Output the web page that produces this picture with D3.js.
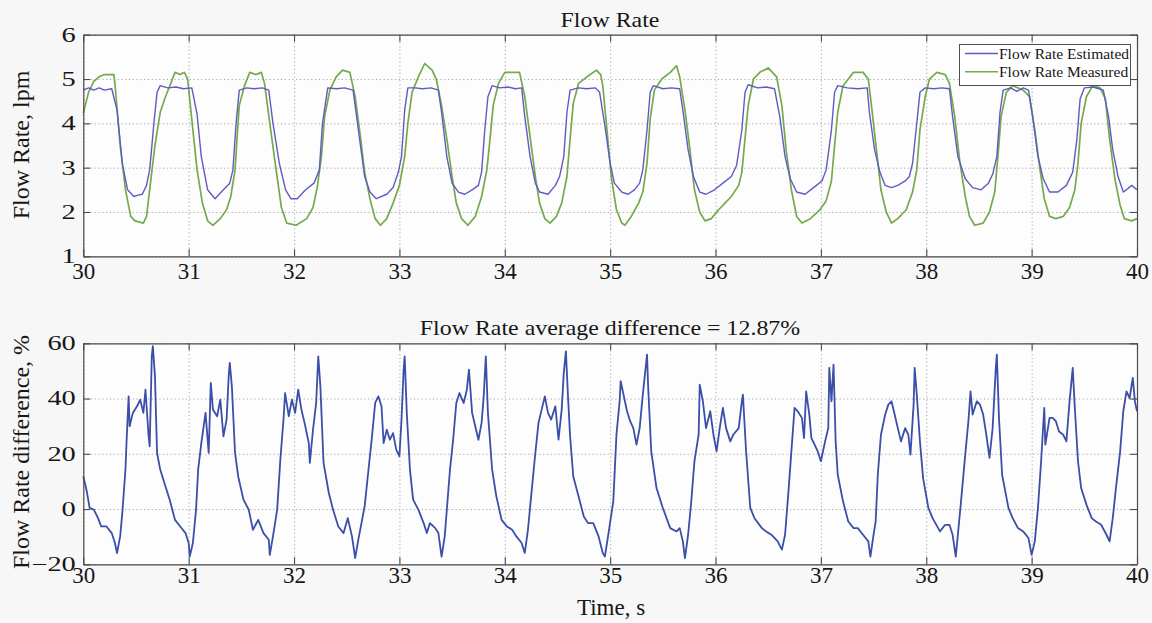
<!DOCTYPE html>
<html>
<head>
<meta charset="utf-8">
<script src="https://cdn.jsdelivr.net/npm/d3@7"></script>
<style>
  body { margin: 0; background: #f7f7f7; }
  svg text { font-family: "Liberation Serif", "Times New Roman", serif; fill: #161616; }
</style>
</head>
<body>
<svg id="chart" width="1152" height="623"></svg>
<script>
// ---- data: [time s, value] ----
const flowEstimated = [
  [30.00,4.75],[30.05,4.8],[30.1,4.75],[30.15,4.8],[30.2,4.75],[30.27,4.78],[30.32,4.3],[30.37,3.1],[30.42,2.5],[30.48,2.35],
  [30.52,2.38],[30.56,2.4],[30.6,2.6],[30.63,2.95],[30.67,4.0],[30.7,4.7],[30.73,4.85],[30.8,4.8],[30.88,4.82],[30.95,4.78],
  [31.03,4.8],[31.08,4.2],[31.12,3.25],[31.18,2.5],[31.25,2.3],[31.33,2.5],[31.39,2.65],[31.42,2.95],[31.45,4.0],[31.48,4.75],
  [31.55,4.8],[31.62,4.78],[31.7,4.8],[31.76,4.75],[31.8,4.0],[31.86,3.1],[31.92,2.5],[31.97,2.3],[32.03,2.3],[32.11,2.5],
  [32.19,2.65],[32.24,2.95],[32.27,4.0],[32.32,4.8],[32.4,4.78],[32.48,4.8],[32.56,4.75],[32.58,4.4],[32.63,3.5],[32.67,2.8],
  [32.72,2.45],[32.78,2.3],[32.88,2.4],[32.94,2.55],[32.99,2.9],[33.02,3.25],[33.05,4.3],[33.08,4.8],[33.15,4.8],[33.22,4.78],
  [33.3,4.8],[33.37,4.75],[33.4,4.25],[33.45,3.25],[33.5,2.65],[33.56,2.45],[33.62,2.4],[33.69,2.5],[33.75,2.6],[33.78,2.9],
  [33.81,3.85],[33.84,4.6],[33.88,4.85],[33.95,4.8],[34.03,4.82],[34.1,4.78],[34.16,4.8],[34.19,4.15],[34.24,3.25],[34.29,2.65],
  [34.33,2.45],[34.41,2.4],[34.48,2.6],[34.52,2.8],[34.56,3.25],[34.59,4.25],[34.62,4.75],[34.7,4.8],[34.78,4.78],[34.86,4.8],
  [34.9,4.7],[34.95,3.95],[35.0,3.1],[35.04,2.65],[35.11,2.45],[35.17,2.4],[35.23,2.5],[35.28,2.65],[35.31,2.95],[35.35,3.85],
  [35.38,4.7],[35.41,4.85],[35.5,4.78],[35.58,4.8],[35.66,4.78],[35.69,4.3],[35.74,3.4],[35.79,2.8],[35.85,2.45],[35.91,2.4],
  [35.99,2.5],[36.07,2.65],[36.15,2.8],[36.2,3.05],[36.25,3.85],[36.28,4.7],[36.31,4.87],[36.4,4.8],[36.48,4.82],[36.56,4.78],
  [36.61,4.15],[36.66,3.25],[36.71,2.75],[36.77,2.45],[36.85,2.4],[36.93,2.55],[37.01,2.7],[37.05,2.95],[37.1,3.85],[37.13,4.7],
  [37.16,4.85],[37.25,4.8],[37.35,4.78],[37.44,4.8],[37.46,4.25],[37.51,3.4],[37.56,2.9],[37.61,2.6],[37.67,2.55],[37.73,2.6],
  [37.8,2.7],[37.84,2.8],[37.87,3.1],[37.91,4.0],[37.94,4.7],[37.99,4.8],[38.07,4.78],[38.15,4.8],[38.22,4.78],[38.25,4.15],
  [38.3,3.25],[38.37,2.75],[38.44,2.55],[38.52,2.5],[38.59,2.65],[38.63,2.85],[38.67,3.25],[38.7,4.25],[38.73,4.75],[38.8,4.8],
  [38.86,4.72],[38.92,4.8],[38.97,4.75],[39.01,4.15],[39.06,3.25],[39.11,2.75],[39.17,2.45],[39.25,2.45],[39.33,2.6],[39.39,2.9],
  [39.43,3.65],[39.46,4.55],[39.5,4.8],[39.58,4.82],[39.64,4.78],[39.68,4.75],[39.73,4.15],[39.77,3.4],[39.82,2.8],[39.87,2.45],
  [39.9,2.5],[39.95,2.6],[40.0,2.5]
];

const flowMeasured = [
  [30.0,4.23],[30.05,4.7],[30.1,4.95],[30.15,5.05],[30.2,5.1],[30.25,5.1],[30.29,5.1],[30.3,4.9],[30.35,3.5],[30.4,2.5],
  [30.45,1.9],[30.49,1.8],[30.57,1.75],[30.6,1.9],[30.64,2.7],[30.68,3.5],[30.73,4.25],[30.78,4.6],[30.83,4.9],[30.87,5.15],
  [30.92,5.1],[30.96,5.15],[30.99,5.0],[31.04,3.85],[31.08,2.95],[31.13,2.2],[31.18,1.8],[31.23,1.7],[31.3,1.85],[31.36,2.05],
  [31.4,2.35],[31.44,2.95],[31.46,3.7],[31.48,4.4],[31.53,4.85],[31.58,5.15],[31.64,5.1],[31.69,5.15],[31.72,4.9],[31.77,4.0],
  [31.83,2.95],[31.88,2.1],[31.93,1.75],[32.02,1.7],[32.12,1.85],[32.18,2.1],[32.22,2.55],[32.26,3.25],[32.29,4.15],[32.34,4.75],
  [32.4,5.05],[32.46,5.2],[32.53,5.15],[32.58,4.6],[32.63,3.7],[32.67,2.9],[32.72,2.3],[32.77,1.85],[32.82,1.7],[32.88,1.85],
  [32.94,2.2],[33.0,2.6],[33.05,3.25],[33.08,4.0],[33.12,4.7],[33.18,5.05],[33.24,5.35],[33.31,5.2],[33.35,5.0],[33.4,4.4],
  [33.45,3.65],[33.5,2.8],[33.54,2.2],[33.59,1.85],[33.65,1.7],[33.72,1.9],[33.78,2.35],[33.83,2.95],[33.86,3.65],[33.89,4.4],
  [33.94,4.9],[34.0,5.15],[34.07,5.15],[34.14,5.15],[34.19,4.6],[34.24,3.7],[34.29,2.8],[34.33,2.2],[34.38,1.85],[34.43,1.75],
  [34.49,1.9],[34.54,2.2],[34.59,2.8],[34.62,3.65],[34.65,4.45],[34.7,4.9],[34.78,5.05],[34.87,5.2],[34.91,5.1],[34.93,4.85],
  [34.97,3.85],[35.01,2.8],[35.06,2.05],[35.11,1.75],[35.14,1.7],[35.2,1.9],[35.27,2.2],[35.31,2.45],[35.35,3.1],[35.38,4.1],
  [35.42,4.75],[35.49,5.0],[35.57,5.15],[35.63,5.3],[35.66,5.05],[35.71,4.3],[35.76,3.35],[35.8,2.5],[35.85,2.0],[35.9,1.8],
  [35.96,1.85],[36.03,2.05],[36.09,2.2],[36.15,2.35],[36.22,2.6],[36.25,2.9],[36.28,3.65],[36.31,4.4],[36.36,5.0],[36.42,5.15],
  [36.5,5.25],[36.58,5.05],[36.63,4.4],[36.67,3.4],[36.72,2.5],[36.77,1.9],[36.82,1.75],[36.9,1.85],[36.99,2.05],[37.05,2.25],
  [37.1,2.7],[37.13,3.5],[37.16,4.25],[37.21,4.85],[37.31,5.15],[37.4,5.15],[37.45,5.0],[37.48,4.4],[37.53,3.35],[37.57,2.5],
  [37.62,2.0],[37.67,1.75],[37.73,1.85],[37.81,2.05],[37.87,2.45],[37.91,2.95],[37.94,3.85],[37.99,4.6],[38.03,5.0],[38.1,5.15],
  [38.18,5.1],[38.22,4.9],[38.27,4.15],[38.32,3.1],[38.37,2.35],[38.41,1.9],[38.46,1.7],[38.54,1.75],[38.6,2.0],[38.65,2.45],
  [38.68,3.25],[38.71,4.15],[38.76,4.7],[38.82,4.85],[38.92,4.75],[38.98,4.6],[39.03,3.85],[39.08,2.95],[39.12,2.3],[39.17,1.9],
  [39.23,1.85],[39.3,1.9],[39.36,2.1],[39.41,2.5],[39.44,3.1],[39.47,4.0],[39.52,4.6],[39.58,4.85],[39.65,4.8],[39.7,4.55],
  [39.74,3.65],[39.79,2.75],[39.84,2.15],[39.88,1.85],[39.95,1.8],[40.0,1.85]
];

const flowDiff = [
  [30.0,11.8],[30.03,7],[30.06,0.4],[30.1,-0.2],[30.14,-3.3],[30.17,-6.3],[30.22,-6.3],[30.27,-8.7],[30.3,-12.3],[30.32,-15.9],
  [30.35,-9.9],[30.37,-1.5],[30.4,14.3],[30.41,23.9],[30.43,40.8],[30.44,30],[30.47,34.8],[30.51,37.2],[30.54,39.6],[30.57,34.8],
  [30.59,43.2],[30.62,26.3],[30.63,22.7],[30.65,55.3],[30.66,59],[30.68,48.1],[30.7,20.3],[30.73,14.3],[30.78,8.2],[30.82,3.4],
  [30.87,-3.9],[30.92,-6.3],[30.97,-8.7],[31.0,-12.3],[31.01,-17.2],[31.04,-12.3],[31.07,-0.2],[31.09,14.3],[31.12,23.9],[31.16,34.8],
  [31.19,20.3],[31.21,45.7],[31.23,36],[31.27,33.6],[31.3,39.6],[31.33,26.3],[31.36,32.4],[31.38,48.1],[31.39,52.9],[31.41,44.4],
  [31.44,20.3],[31.47,11.8],[31.52,3.4],[31.57,-0.2],[31.61,-7.5],[31.66,-3.9],[31.71,-8.7],[31.76,-11.1],[31.77,-16.6],[31.8,-9.9],
  [31.84,-0.2],[31.87,17.9],[31.9,32.4],[31.915,42],[31.95,33.6],[31.98,39.6],[32.01,34.8],[32.04,43.2],[32.07,36],[32.1,31.2],
  [32.14,23.9],[32.15,16.7],[32.18,28.7],[32.21,38.4],[32.23,55.3],[32.25,44.4],[32.28,16.7],[32.33,5.8],[32.37,-0.2],[32.42,-6.3],
  [32.47,-8.7],[32.51,-3.3],[32.55,-9.9],[32.58,-17.8],[32.61,-11.1],[32.64,-5.1],[32.67,1],[32.71,15.5],[32.74,26.3],[32.77,38.4],
  [32.8,40.8],[32.83,37.2],[32.85,23.9],[32.88,28.7],[32.91,25.1],[32.94,27.5],[32.97,21.5],[33.0,19.1],[33.02,32.4],[33.04,50.5],
  [33.05,55.3],[33.07,34.8],[33.1,14.3],[33.13,3.4],[33.18,-0.2],[33.23,-5.1],[33.26,-8.7],[33.29,-5.1],[33.34,-6.9],[33.37,-8.7],
  [33.4,-17.2],[33.43,-9.9],[33.45,-0.2],[33.48,14.3],[33.51,25.1],[33.54,38.4],[33.57,42],[33.61,38.4],[33.64,43.2],[33.66,50.5],
  [33.69,34.8],[33.72,30],[33.75,25.1],[33.78,31.2],[33.8,40.8],[33.82,55.3],[33.84,34.8],[33.88,14.3],[33.92,4.6],[33.97,-3.9],
  [34.02,-6.3],[34.07,-7.5],[34.11,-9.9],[34.16,-12.3],[34.19,-15.9],[34.22,-7.5],[34.25,4.6],[34.29,20.3],[34.32,31.2],[34.35,36],
  [34.38,40.8],[34.41,34.8],[34.44,32.4],[34.48,37.2],[34.51,25.1],[34.54,36],[34.56,49.3],[34.58,57.1],[34.6,40.8],[34.62,26.3],
  [34.65,11.8],[34.7,4.6],[34.75,-2.7],[34.79,-5.1],[34.84,-5.1],[34.89,-9.9],[34.93,-15.9],[34.95,-17.2],[34.98,-9.9],[35.03,2.8],
  [35.06,27],[35.09,39],[35.1,46.3],[35.16,35.4],[35.19,31.8],[35.22,29.3],[35.25,23.3],[35.28,29.3],[35.31,41.4],[35.35,55.9],
  [35.36,45],[35.39,20.9],[35.44,7.6],[35.5,0.4],[35.57,-6.9],[35.63,-8.1],[35.66,-6.9],[35.69,-11.7],[35.71,-17.8],[35.74,-9.3],
  [35.77,2.8],[35.8,17.3],[35.84,27],[35.85,45],[35.88,39],[35.91,29.3],[35.95,35.4],[35.98,27],[36.01,20.9],[36.04,29.3],
  [36.07,36.6],[36.1,29.3],[36.14,24.5],[36.17,27],[36.22,29.3],[36.25,39],[36.26,41.4],[36.29,20.9],[36.33,0.4],[36.37,-3.3],
  [36.44,-6.9],[36.48,-8.1],[36.53,-9.3],[36.59,-11.7],[36.63,-14.7],[36.66,-9.3],[36.69,5.2],[36.72,20.9],[36.75,36.6],[36.78,35.4],
  [36.82,33],[36.84,25.7],[36.86,42.6],[36.89,34.2],[36.91,25.7],[36.94,23.3],[36.97,20.9],[37.0,17.3],[37.04,24.5],[37.07,29.3],
  [37.08,51.1],[37.1,39],[37.12,52.3],[37.14,24.5],[37.16,12.4],[37.21,2.8],[37.26,-4.5],[37.31,-6.9],[37.35,-6.9],[37.4,-9.3],
  [37.45,-11.7],[37.47,-17.2],[37.5,-9.3],[37.52,-4.5],[37.54,12.4],[37.57,26.9],[37.61,34.2],[37.64,37.8],[37.67,39],[37.7,34.2],
  [37.73,29.3],[37.76,24.5],[37.8,29.3],[37.83,26.9],[37.85,19.7],[37.88,37.8],[37.89,51.1],[37.91,41.4],[37.94,24.5],[37.97,11.2],
  [38.02,0.4],[38.06,-3.3],[38.13,-8.1],[38.18,-5.7],[38.22,-5.7],[38.25,-9.3],[38.28,-17.2],[38.3,-9.3],[38.33,2.8],[38.37,19.7],
  [38.4,31.8],[38.42,42.6],[38.44,34.2],[38.48,39],[38.51,37.8],[38.54,34.2],[38.57,26.9],[38.6,18.5],[38.63,29.3],[38.66,51.1],
  [38.67,55.9],[38.69,33],[38.72,12.4],[38.78,0.4],[38.82,-3.3],[38.87,-6.9],[38.92,-8.1],[38.97,-10.5],[39.0,-16.6],[39.03,-11.7],
  [39.06,0.4],[39.09,17.3],[39.12,36.6],[39.13,23.3],[39.17,33],[39.2,33],[39.23,31.8],[39.26,28.1],[39.3,26.9],[39.33,24.5],
  [39.36,39],[39.39,51.1],[39.41,36.6],[39.44,17.3],[39.47,7.6],[39.52,1.6],[39.57,-3.3],[39.61,-4.5],[39.66,-5.7],[39.71,-9.3],
  [39.74,-11.7],[39.77,-3.3],[39.8,7.6],[39.84,20.9],[39.87,35.4],[39.9,42.6],[39.93,40.2],[39.96,47.5],[39.98,39],[40.0,35.4]
];

const timeTicks = [30, 31, 32, 33, 34, 35, 36, 37, 38, 39, 40];
const flowTicks = [1, 2, 3, 4, 5, 6];
const diffTicks = [-20, 0, 20, 40, 60];
const legendNames = ["Flow Rate Estimated", "Flow Rate Measured"];

// ---- drawing ----
const svg = d3.select("#chart");
const left = 83.3, right = 1137;
const x = d3.scaleLinear().domain([30, 40]).range([left, right]);
const yFlow = d3.scaleLinear().domain([1, 6]).range([256.3, 34.7]);
const yDiff = d3.scaleLinear().domain([-20, 60]).range([564.3, 343.3]);
const serif = '"Liberation Serif", "Times New Roman", serif';
const intFmt = d3.format("d");

const colEst = "#5e5bc2", colMeas = "#74aa4c", colDiff = "#3b4ea8", frame = "#4a4a4a";

function panel(y, yTicks, xPad) {
  const y0 = y.range()[0], y1 = y.range()[1];
  const g = svg.append("g");

  g.append("rect").attr("x", left).attr("y", y1)
    .attr("width", right - left).attr("height", y0 - y1).attr("fill", "#fdfdfd");

  // dotted grid
  const gx = g.append("g").attr("transform", `translate(0,${y0})`)
    .call(d3.axisBottom(x).tickValues(timeTicks).tickSize(-(y0 - y1)).tickFormat(""));
  const gy = g.append("g").attr("transform", `translate(${left},0)`)
    .call(d3.axisLeft(y).tickValues(yTicks).tickSize(-(right - left)).tickFormat(""));
  [gx, gy].forEach(a => {
    a.select(".domain").remove();
    a.selectAll("line").attr("stroke", "#9c9c9c").attr("stroke-width", 0.9)
      .attr("stroke-dasharray", "1.2,2.6");
  });

  const layer = g.append("g");

  // frame with inward ticks on all sides
  const ax = [
    [d3.axisBottom(x).tickValues(timeTicks).tickFormat(intFmt).tickPadding(xPad), `translate(0,${y0})`],
    [d3.axisTop(x).tickValues(timeTicks).tickFormat(""), `translate(0,${y1})`],
    [d3.axisLeft(y).tickValues(yTicks).tickFormat(intFmt).tickPadding(5.3), `translate(${left},0)`],
    [d3.axisRight(y).tickValues(yTicks).tickFormat(""), `translate(${right},0)`]
  ];
  const axes = ax.map(([a, t]) => {
    const s = g.append("g").attr("transform", t)
      .call(a.tickSizeInner(-7).tickSizeOuter(0))
      .attr("font-family", serif);
    s.select(".domain").attr("stroke", frame).attr("stroke-width", 1.2);
    s.selectAll("line").attr("stroke", frame).attr("stroke-width", 1.1);
    s.selectAll("text").attr("font-family", serif).attr("fill", "#161616");
    return s;
  });
  axes[0].selectAll("text").attr("font-size", 23);
  axes[2].selectAll("text").attr("font-size", 20).attr("transform", "scale(1.42,1)");
  return layer;
}

const flowLayer = panel(yFlow, flowTicks, 6.7);
const diffLayer = panel(yDiff, diffTicks, 2.7);

const lineFlow = d3.line().x(d => x(d[0])).y(d => yFlow(d[1]));
const lineDiff = d3.line().x(d => x(d[0])).y(d => yDiff(d[1]));

flowLayer.append("path").datum(flowMeasured).attr("d", lineFlow)
  .attr("fill", "none").attr("stroke", colMeas).attr("stroke-width", 1.7).attr("stroke-linejoin", "round");
flowLayer.append("path").datum(flowEstimated).attr("d", lineFlow)
  .attr("fill", "none").attr("stroke", colEst).attr("stroke-width", 1.4).attr("stroke-linejoin", "round");
diffLayer.append("path").datum(flowDiff).attr("d", lineDiff)
  .attr("fill", "none").attr("stroke", colDiff).attr("stroke-width", 1.8).attr("stroke-linejoin", "round");

// titles and axis labels
svg.append("text").attr("transform", "translate(610,27) scale(1.086,1)")
  .attr("text-anchor", "middle").attr("font-size", 22).text("Flow Rate");
svg.append("text").attr("transform", "translate(610,335) scale(1.086,1)")
  .attr("text-anchor", "middle").attr("font-size", 22).text("Flow Rate average difference = 12.87%");
svg.append("text").attr("transform", "translate(29,145) rotate(-90)")
  .attr("text-anchor", "middle").attr("font-size", 24).text("Flow Rate, lpm");
svg.append("text").attr("transform", "translate(29,452) rotate(-90)")
  .attr("text-anchor", "middle").attr("font-size", 24).text("Flow Rate difference, %");
svg.append("text").attr("x", 611).attr("y", 615)
  .attr("text-anchor", "middle").attr("font-size", 23).text("Time, s");

// legend
const lg = svg.append("g");
lg.append("rect").attr("x", 959.5).attr("y", 44.5).attr("width", 171).attr("height", 41)
  .attr("fill", "#ffffff").attr("stroke", "#505050").attr("stroke-width", 1);
[colEst, colMeas].forEach((c, i) => {
  const yy = 53.5 + i * 18.3;
  lg.append("line").attr("x1", 965).attr("x2", 998).attr("y1", yy).attr("y2", yy)
    .attr("stroke", c).attr("stroke-width", i ? 1.6 : 1.3);
  lg.append("text").attr("x", 999).attr("y", yy + 5.5).attr("font-size", 15.5).text(legendNames[i]);
});
</script>
</body>
</html>
